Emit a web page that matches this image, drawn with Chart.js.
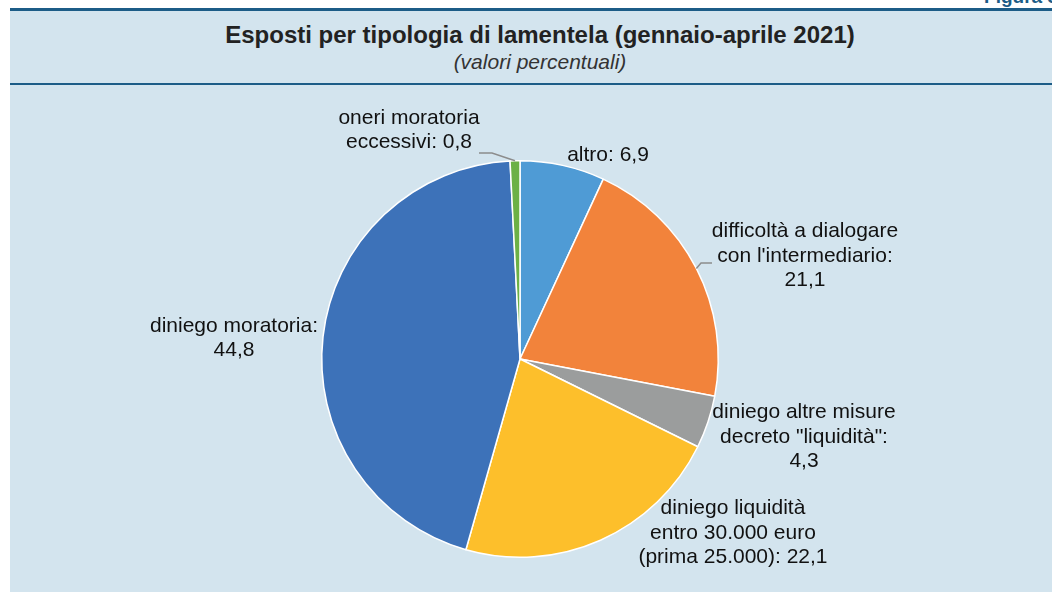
<!DOCTYPE html>
<html>
<head>
<meta charset="utf-8">
<script src="https://cdn.jsdelivr.net/npm/chart.js@4"></script>
<style>
  html, body { margin: 0; padding: 0; background: #fff; overflow: hidden; }
  body { width: 1052px; height: 592px; position: relative; font-family: "Liberation Sans", Arial, sans-serif; }
  #panel { position: absolute; left: 10px; top: 8px; width: 1080px; height: 600px; background: #d3e4ee; border-top: 3px solid #1c5c87; }
  #rule { position: absolute; left: 10px; top: 83px; width: 1080px; height: 2px; background: #1c5c87; }
  #fig { position: absolute; right: -6px; top: -14px; font-weight: bold; font-size: 19px; color: #1c5c87; }
  #title { position: absolute; left: 10px; width: 1060px; top: 21px; text-align: center; font-weight: bold; font-size: 24px; line-height: 28px; color: #222; }
  #subtitle { position: absolute; left: 10px; width: 1060px; top: 50px; text-align: center; font-style: italic; font-size: 21px; line-height: 24px; color: #333; }
  #chart { position: absolute; left: 0; top: 0; }
</style>
</head>
<body>
<div id="panel"></div>
<div id="rule"></div>
<div id="fig">Figura 3</div>
<div id="title">Esposti per tipologia di lamentela (gennaio-aprile 2021)</div>
<div id="subtitle">(valori percentuali)</div>
<canvas id="chart" width="1052" height="592"></canvas>
<script>
const categories = [
  "altro",
  "difficoltà a dialogare con l'intermediario",
  "diniego altre misure decreto \"liquidità\"",
  "diniego liquidità entro 30.000 euro (prima 25.000)",
  "diniego moratoria",
  "oneri moratoria eccessivi"
];
const values = [6.9, 21.1, 4.3, 22.1, 44.8, 0.8];
const labelLines = [
  ["altro: 6,9"],
  ["difficoltà a dialogare", "con l'intermediario:", "21,1"],
  ["diniego altre misure", "decreto \"liquidità\":", "4,3"],
  ["diniego liquidità", "entro 30.000 euro", "(prima 25.000): 22,1"],
  ["diniego moratoria:", "44,8"],
  ["oneri moratoria", "eccessivi: 0,8"]
];
const colors = ["#4f9bd5", "#f2833b", "#9b9d9d", "#fdbf2b", "#3d72b9", "#6cb146"];

// label block centres relative to the pie centre, plus leader elbows
const labelPos = [
  { dx: 88, dy: -204 },
  { dx: 285, dy: -103, leader: [[181, -96], [192, -96]] },
  { dx: 284, dy: 78 },
  { dx: 213, dy: 174 },
  { dx: -286, dy: -21 },
  { dx: -111, dy: -229, leader: [[-28, -206], [-41, -206]] }
];

const pieLabels = {
  id: "pieLabels",
  afterDatasetsDraw(chart) {
    const ctx = chart.ctx;
    const arcs = chart.getDatasetMeta(0).data;
    ctx.save();
    ctx.font = "21px 'Liberation Sans', Arial, sans-serif";
    ctx.fillStyle = "#111";
    ctx.textAlign = "center";
    ctx.textBaseline = "middle";
    arcs.forEach((arc, i) => {
      const { x, y, startAngle, endAngle, outerRadius } = arc.getProps(["x", "y", "startAngle", "endAngle", "outerRadius"], true);
      const p = labelPos[i];
      if (p.leader) {
        const mid = (startAngle + endAngle) / 2;
        ctx.strokeStyle = "#8c8c8c";
        ctx.lineWidth = 1.5;
        ctx.beginPath();
        ctx.moveTo(x + Math.cos(mid) * outerRadius, y + Math.sin(mid) * outerRadius);
        p.leader.forEach(([lx, ly]) => ctx.lineTo(x + lx, y + ly));
        ctx.stroke();
      }
      const lines = labelLines[i];
      const lh = 24.5;
      lines.forEach((line, k) => {
        ctx.fillText(line, x + p.dx, y + p.dy + (k - (lines.length - 1) / 2) * lh);
      });
    });
    ctx.restore();
  }
};

new Chart(document.querySelector("#chart"), {
  type: "pie",
  data: {
    labels: categories,
    datasets: [{ data: values, backgroundColor: colors, borderColor: "#ffffff", borderWidth: 1.5 }]
  },
  options: {
    responsive: false,
    animation: false,
    layout: { padding: { left: 321, right: 333, top: 160, bottom: 34 } },
    plugins: { legend: { display: false }, tooltip: { enabled: false }, title: { display: false } }
  },
  plugins: [pieLabels]
});
</script>
</body>
</html>
